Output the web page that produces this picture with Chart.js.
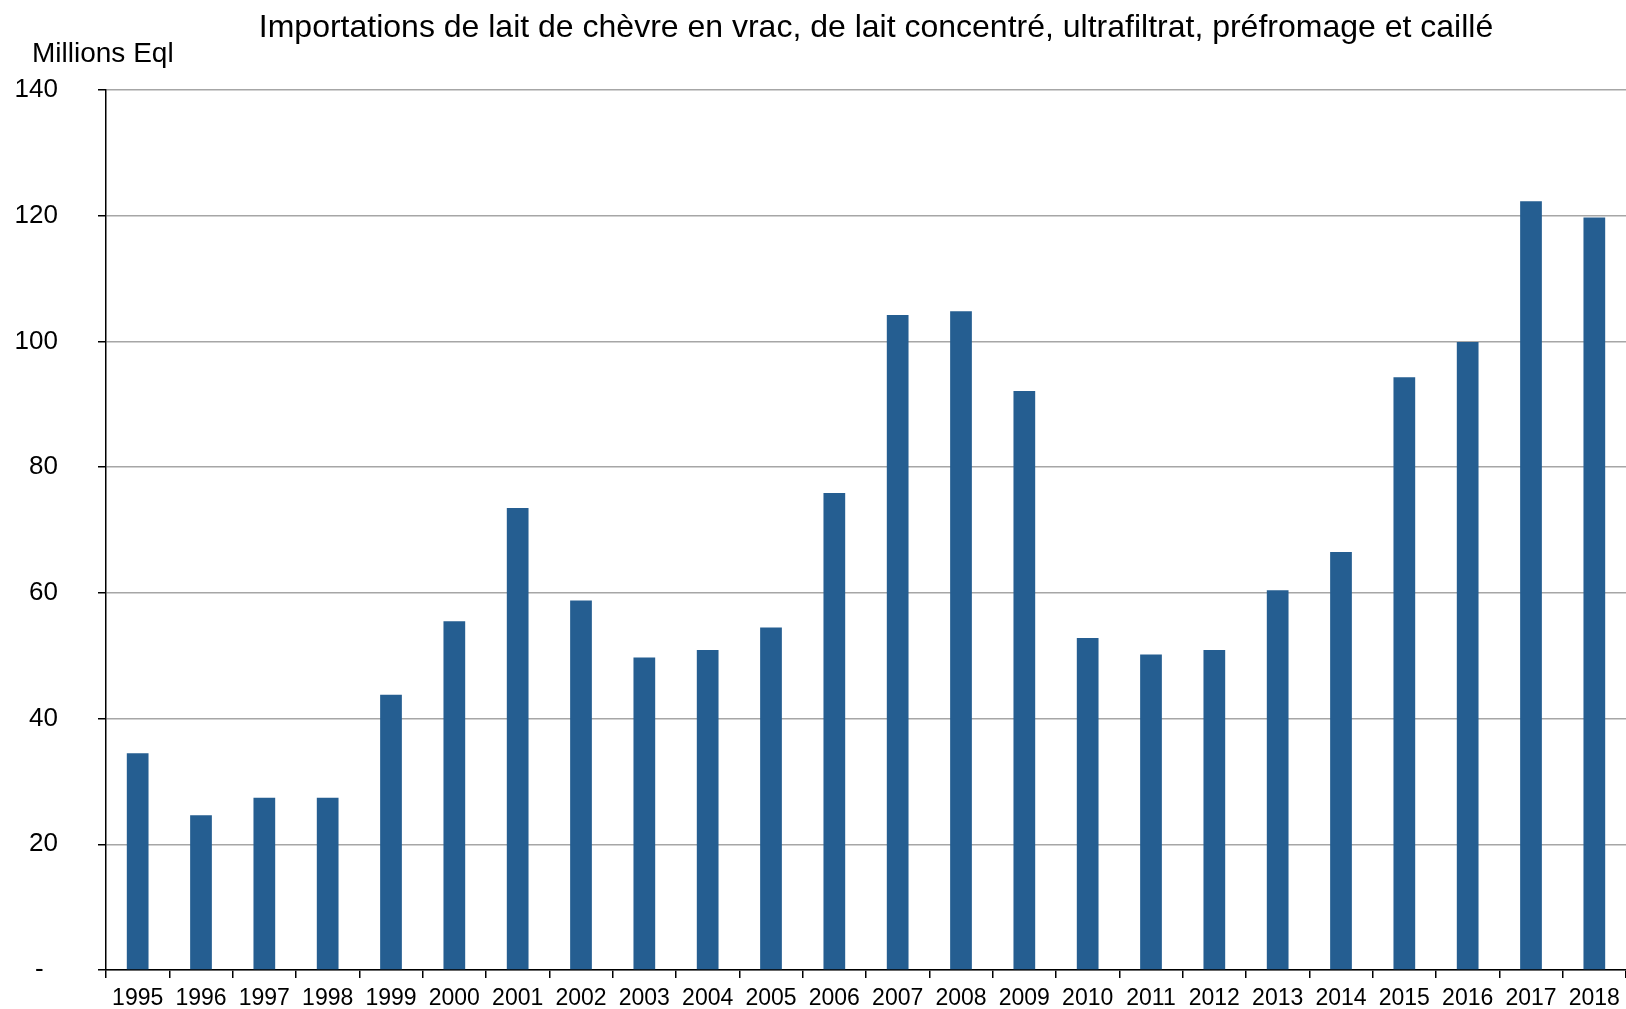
<!DOCTYPE html>
<html lang="fr">
<head>
    <meta charset="UTF-8">
    <title>Importations de lait de chèvre</title>
    <script src="https://cdn.jsdelivr.net/npm/chart.js@4/dist/chart.umd.min.js"></script>
    <style>
        html, body { margin: 0; padding: 0; background: #fff; }
        #wrap { width: 1626px; height: 1009px; }
    </style>
</head>
<body>
    <div id="wrap">
        <canvas id="chart" width="1626" height="1009"></canvas>
    </div>

<script>
    const chartTitle = 'Importations de lait de chèvre en vrac, de lait concentré, ultrafiltrat, préfromage et caillé';
    const unitLabel = 'Millions Eql';

    const years = ['1995', '1996', '1997', '1998', '1999', '2000', '2001', '2002', '2003', '2004', '2005', '2006',
        '2007', '2008', '2009', '2010', '2011', '2012', '2013', '2014', '2015', '2016', '2017', '2018'];
    const imports = [34.5, 24.6, 27.4, 27.4, 43.8, 55.5, 73.5, 58.8, 49.7, 50.9, 54.5, 75.9,
        104.2, 104.8, 92.1, 52.8, 50.2, 50.9, 60.4, 66.5, 94.3, 99.9, 122.3, 119.7];
    const yMax = 140;
    const yStep = 20;

    const font = '"Liberation Sans", Arial, sans-serif';

    // titre et unité dessinés à la main
    const textPlugin = {
        id: 'texts',
        afterDraw(chart) {
            const c = chart.ctx;
            c.save();
            c.fillStyle = '#000';
            c.textBaseline = 'alphabetic';
            c.font = '32px ' + font;
            c.textAlign = 'center';
            c.fillText(chartTitle, 876, 37);
            c.font = '28px ' + font;
            c.textAlign = 'left';
            c.fillText(unitLabel, 32, 62);
            c.restore();
        }
    };

    const ctx = document.getElementById('chart').getContext('2d');
    new Chart(ctx, {
        type: 'bar',
        data: {
            labels: years,
            datasets: [{
                data: imports,
                backgroundColor: '#255E91',
                borderWidth: 0,
                categoryPercentage: 1,
                barPercentage: 0.343
            }]
        },
        options: {
            responsive: false,
            animation: false,
            layout: { padding: { top: 90, right: 0, left: 0, bottom: 0 } },
            plugins: {
                legend: { display: false },
                title: { display: false },
                tooltip: { enabled: false }
            },
            scales: {
                x: {
                    grid: {
                        offset: true,
                        drawOnChartArea: false,
                        color: '#000',
                        tickLength: 8,
                        lineWidth: 1.5
                    },
                    border: { color: '#000', width: 1.5 },
                    ticks: {
                        color: '#000',
                        font: { family: font, size: 23 },
                        padding: 7,
                        maxRotation: 0,
                        autoSkip: false
                    },
                    afterFit(scale) {
                        scale.height = 39;
                        scale.paddingLeft = 0;
                        scale.paddingRight = 0;
                    }
                },
                y: {
                    min: 0,
                    max: yMax,
                    grid: {
                        color: '#a6a6a6',
                        lineWidth: 1.5,
                        tickColor: '#000',
                        tickLength: 8
                    },
                    border: { color: '#000', width: 1.5 },
                    ticks: {
                        stepSize: yStep,
                        color: '#000',
                        font: { family: font, size: 26 },
                        padding: 40,
                        callback: (v) => v === 0 ? '-  ' : v
                    },
                    afterFit(scale) {
                        scale.width = 106;
                        // sinon le padding des étiquettes rogne la zone du graphique
                        scale.paddingTop = 0;
                        scale.paddingBottom = 0;
                    }
                }
            }
        },
        plugins: [textPlugin]
    });
</script>
</body>
</html>
